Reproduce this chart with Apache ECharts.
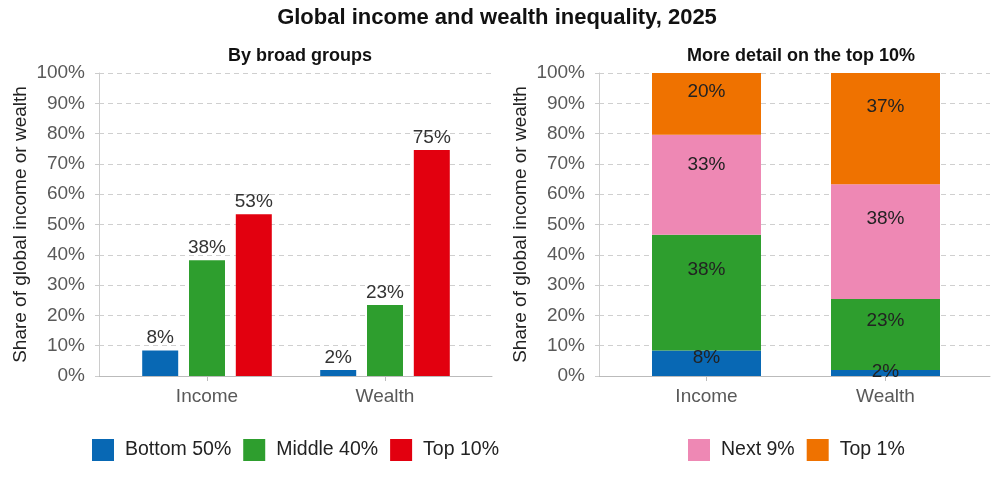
<!DOCTYPE html>
<html>
<head>
<meta charset="utf-8">
<script src="https://cdn.jsdelivr.net/npm/echarts@6/dist/echarts.min.js"></script>
<style>
  html, body { margin: 0; padding: 0; background: #fff; }
  #chart { width: 994px; height: 480px; }
</style>
</head>
<body>
<div id="chart"></div>
<script>
// values (percent of global total)
const categories = ['Income', 'Wealth'];
const bottom50 = [8.4, 2.0];
const middle40 = [38.2, 23.4];
const top10 = [53.4, 74.6];
const next9 = [33.0, 37.9];
const top1 = [20.4, 36.7];

const colors = {
    bottom: '#0868b4',
    middle: '#2e9e2e',
    top10: '#e2000f',
    next9: '#ee88b4',
    top1: '#ef7200'
};

const font = 'Liberation Sans, Arial, sans-serif';
const pct = p => Math.round(p.value) + '%';

// background axis (labels, grid lines) for one panel
function bgY(grid) {
    return {
        gridIndex: grid, type: 'value', min: 0, max: 100, interval: 10,
        name: 'Share of global income or wealth',
        nameLocation: 'middle', nameGap: 69,
        nameTextStyle: {fontSize: 19, color: '#222', fontFamily: font},
        axisLabel: {formatter: '{value}%', fontSize: 19, color: '#595959', margin: 14, fontFamily: font},
        axisLine: {show: true, lineStyle: {color: '#cccccc'}},
        axisTick: {show: true, length: 4, lineStyle: {color: '#cccccc'}},
        splitLine: {lineStyle: {color: '#cfcfcf', type: [5, 4]}}
    };
}
function bgX(grid) {
    return {
        gridIndex: grid, type: 'category', data: categories,
        axisLine: {lineStyle: {color: '#bbbbbb'}},
        axisTick: {show: false}, axisLabel: {show: false}
    };
}
function barX(grid) {
    return {
        gridIndex: grid, type: 'category', data: categories,
        axisLine: {show: false},
        axisTick: {show: true, alignWithLabel: true, length: 5, lineStyle: {color: '#bbbbbb'}},
        axisLabel: {fontSize: 19, color: '#595959', margin: 11, fontFamily: font}
    };
}
function barY(grid) {
    return {gridIndex: grid, type: 'value', min: 0, max: 100, show: false};
}

function groupBar(name, data, color) {
    return {
        name, type: 'bar', data, xAxisIndex: 1, yAxisIndex: 1,
        barWidth: 36, barGap: '30%',
        itemStyle: {color},
        label: {show: true, position: 'top', distance: 3, formatter: pct,
            fontSize: 19, color: '#333', fontFamily: font}
    };
}
function stackBar(name, data, color) {
    return {
        name, type: 'bar', data, xAxisIndex: 3, yAxisIndex: 3,
        stack: 'detail', barWidth: 109,
        itemStyle: {color},
        label: {show: true, position: ['50%', '30%'], align: 'center', verticalAlign: 'middle',
            formatter: pct, fontSize: 19, color: '#222', fontFamily: font}
    };
}

const chart = echarts.init(document.getElementById('chart'));
chart.setOption({
    animation: false,
    backgroundColor: '#fff',
    textStyle: {fontFamily: font},
    title: [
        {text: 'Global income and wealth inequality, 2025', left: 'center', top: 2,
            textStyle: {fontSize: 22, fontWeight: 'bold', color: '#111', fontFamily: font}},
        {text: 'By broad groups', left: 295, top: 42, textAlign: 'center',
            textStyle: {fontSize: 18, fontWeight: 'bold', color: '#111', fontFamily: font}},
        {text: 'More detail on the top 10%', left: 796, top: 42, textAlign: 'center',
            textStyle: {fontSize: 18, fontWeight: 'bold', color: '#111', fontFamily: font}}
    ],
    legend: [
        {data: ['Bottom 50%', 'Middle 40%', 'Top 10%'], left: 87, top: 434,
            itemWidth: 22, itemHeight: 22, itemGap: 12, icon: 'rect',
            textStyle: {fontSize: 19.5, color: '#222', fontFamily: font, padding: [0, 0, 0, 6]}},
        {data: ['Next 9%', 'Top 1%'], left: 683, top: 434,
            itemWidth: 22, itemHeight: 22, itemGap: 12, icon: 'rect',
            textStyle: {fontSize: 19.5, color: '#222', fontFamily: font, padding: [0, 0, 0, 6]}}
    ],
    grid: [
        {left: 99, top: 73, width: 393, height: 303},
        {left: 118, top: 73, width: 356, height: 303},
        {left: 599, top: 73, width: 391, height: 303},
        {left: 617, top: 73, width: 358, height: 303}
    ],
    xAxis: [bgX(0), barX(1), bgX(2), barX(3)],
    yAxis: [bgY(0), barY(1), bgY(2), barY(3)],
    series: [
        groupBar('Bottom 50%', bottom50, colors.bottom),
        groupBar('Middle 40%', middle40, colors.middle),
        groupBar('Top 10%', top10, colors.top10),
        stackBar('Bottom 50%', bottom50, colors.bottom),
        stackBar('Middle 40%', middle40, colors.middle),
        stackBar('Next 9%', next9, colors.next9),
        stackBar('Top 1%', top1, colors.top1)
    ]
});
</script>
</body>
</html>
